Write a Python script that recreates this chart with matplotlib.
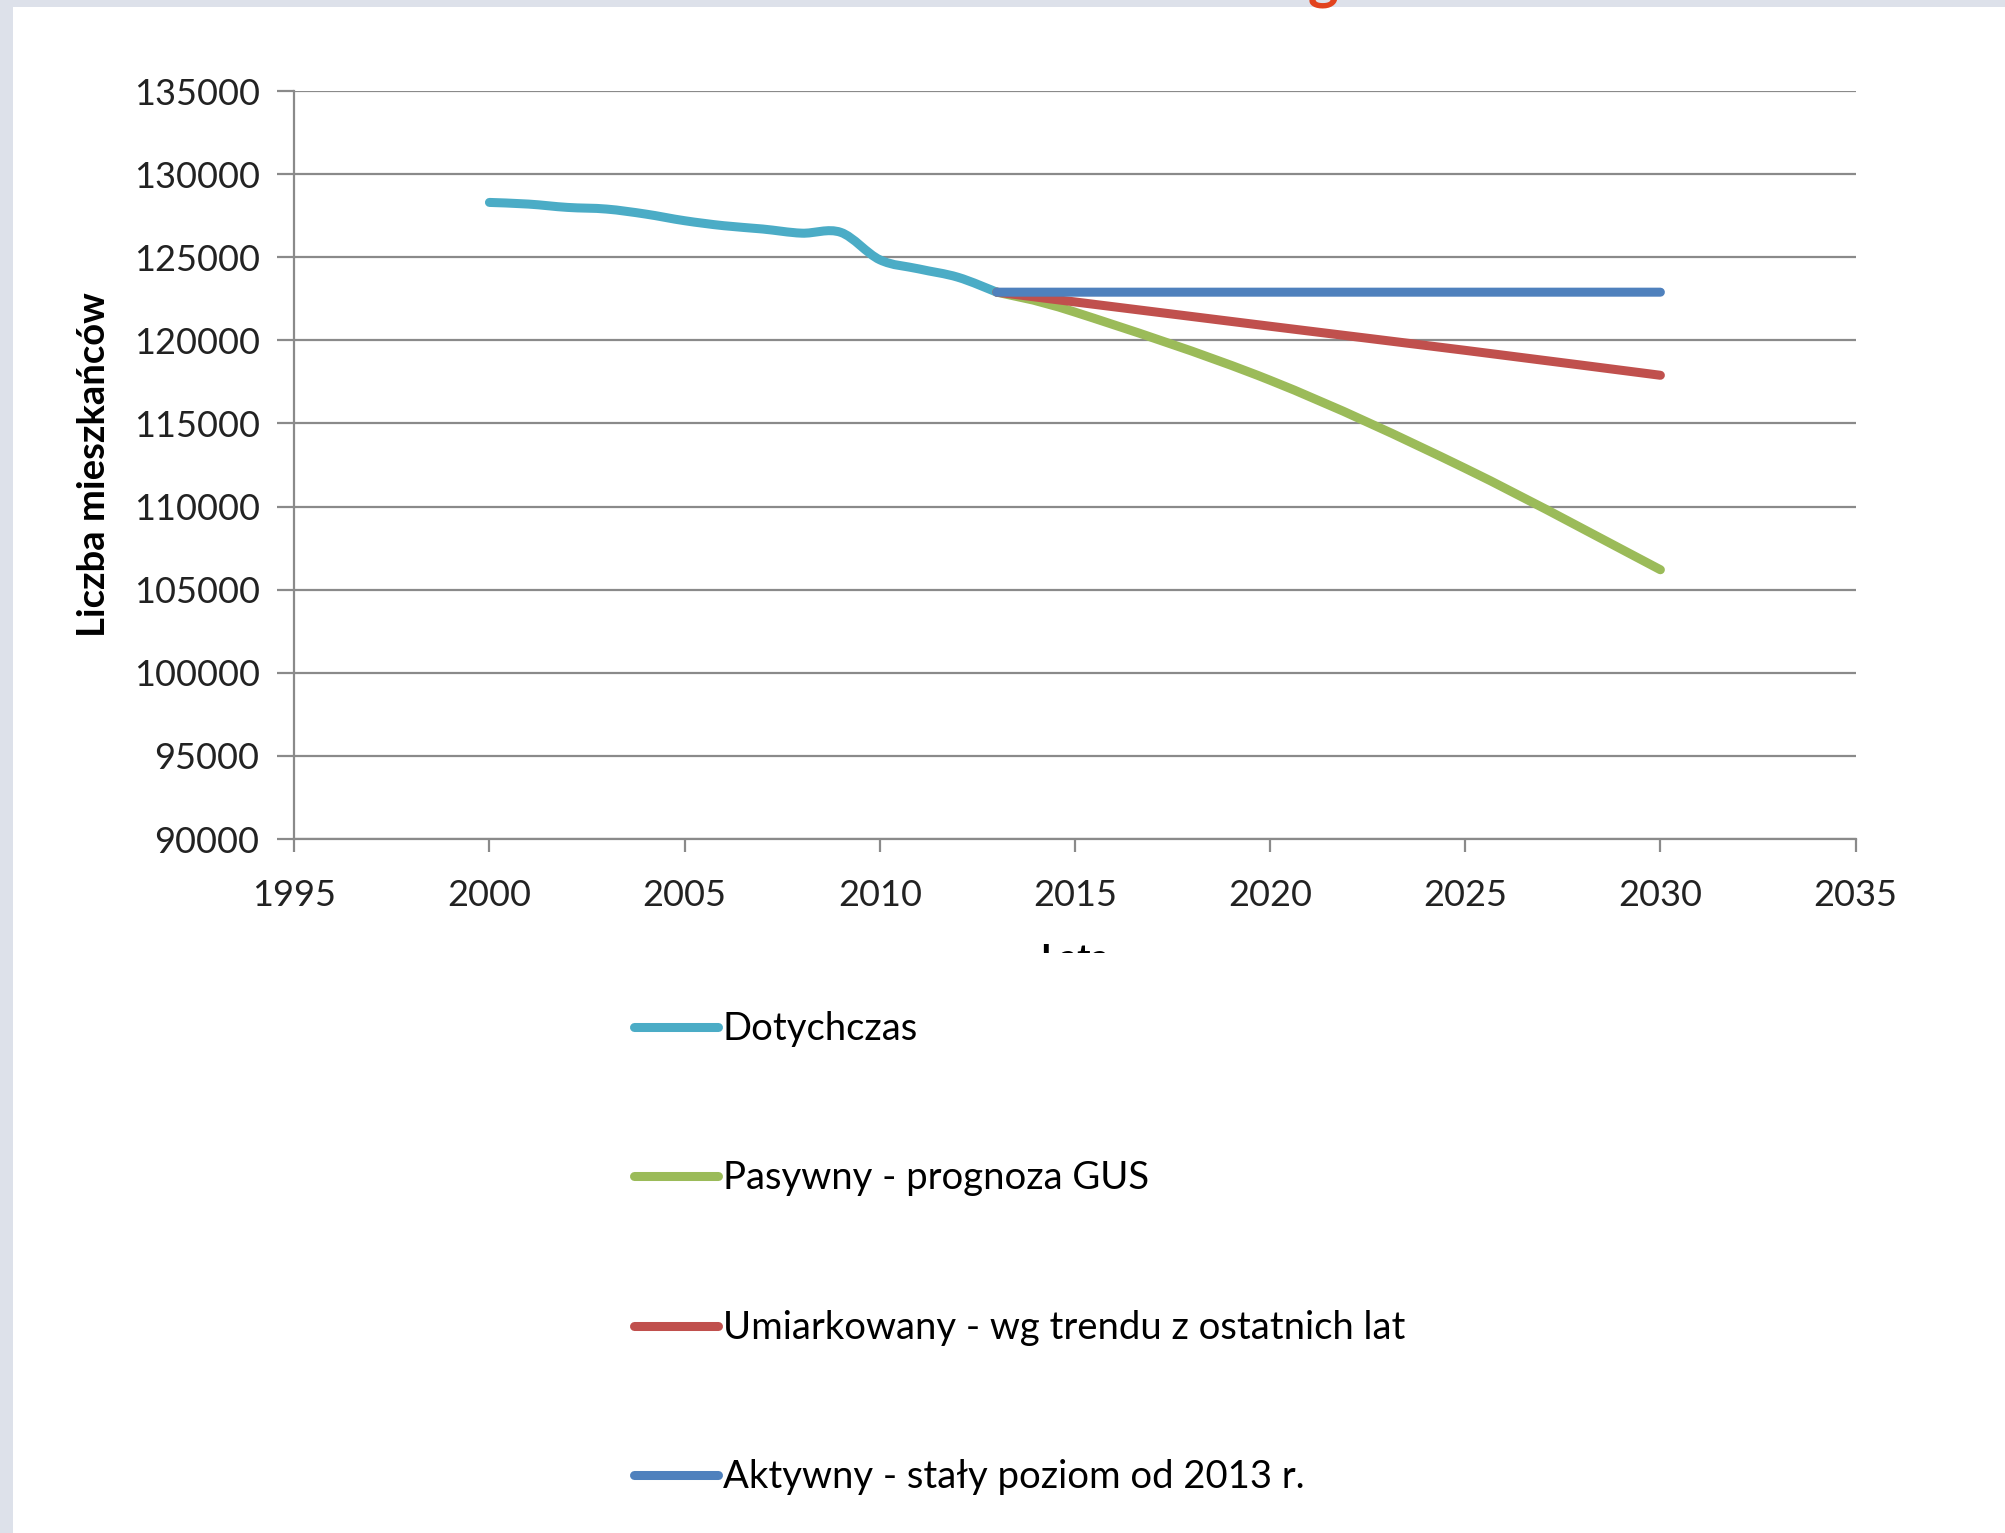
import matplotlib
matplotlib.use('Agg')
import matplotlib.pyplot as plt
from matplotlib.path import Path
from matplotlib.patches import PathPatch, Rectangle
from matplotlib.lines import Line2D
from matplotlib.transforms import Bbox, TransformedBbox

# dane
years_hist = [2000, 2001, 2002, 2003, 2004, 2005, 2006, 2007, 2008, 2009, 2010, 2011, 2012, 2013]
hist = [128300, 128200, 128000, 127900, 127600, 127200, 126900, 126700, 126450, 126500,
        124850, 124300, 123800, 122900]

years_pas = [2013, 2015, 2020, 2025, 2030]
pasywny = [122900, 121700, 117600, 112300, 106200]

years_umi = [2013, 2020, 2025, 2030]
umiarkowany = [122900, 120850, 119400, 117900]

years_akt = [2013, 2030]
aktywny = [122900, 122900]

labels = ['Dotychczas', 'Pasywny - prognoza GUS',
          'Umiarkowany - wg trendu z ostatnich lat', 'Aktywny - stały poziom od 2013 r.']
colors = ['#4BACC6', '#9BBB59', '#C0504D', '#4F81BD']

FONT = ['Lato', 'DejaVu Sans']
plt.rcParams['font.family'] = FONT


def smooth_path(xs, ys):
    # wygladzanie jak w Excelu (krzywe Beziera)
    pts = list(zip(xs, ys))
    verts = [pts[0]]
    codes = [Path.MOVETO]
    n = len(pts)
    for i in range(n - 1):
        p0 = pts[i - 1] if i > 0 else pts[i]
        p1 = pts[i]
        p2 = pts[i + 1]
        p3 = pts[i + 2] if i + 2 < n else pts[i + 1]
        c1 = (p1[0] + (p2[0] - p0[0]) / 6, p1[1] + (p2[1] - p0[1]) / 6)
        c2 = (p2[0] - (p3[0] - p1[0]) / 6, p2[1] - (p3[1] - p1[1]) / 6)
        verts += [c1, c2, p2]
        codes += [Path.CURVE4] * 3
    return Path(verts, codes)


fig = plt.figure(figsize=(20.06, 15.33), dpi=100)
fig.patch.set_facecolor('#dde1ea')
fig.add_artist(Rectangle((13 / 2006, 0), 1, 1 - 7 / 1533, transform=fig.transFigure,
                         facecolor='white', edgecolor='none', zorder=0))
# fragment tytulu slajdu (uciety u gory)
fig.text(0.652, 1.0 + 2 / 1533, 'g', color='#e2431e', fontsize=42, fontweight='bold',
         ha='left', va='baseline')

ax = fig.add_axes([0.1467, 0.4527, 0.9250 - 0.1467, 0.9406 - 0.4527])
ax.set_facecolor('white')

LW = 6.5
series = [(years_hist, hist), (years_pas, pasywny), (years_umi, umiarkowany), (years_akt, aktywny)]
for (xs, ys), c in zip(series, colors):
    ax.add_patch(PathPatch(smooth_path(xs, ys), fill=False, edgecolor=c, lw=LW,
                           capstyle='round', joinstyle='round', zorder=3))

ax.set_xlim(1995, 2035)
ax.set_ylim(90000, 135000)
ax.set_xticks(range(1995, 2036, 5))
ax.set_yticks(range(90000, 135001, 5000))
ax.yaxis.grid(True, color='#8a8a8a', lw=1.6)
ax.set_axisbelow(True)
for s in ['top', 'right']:
    ax.spines[s].set_visible(False)
for s in ['left', 'bottom']:
    ax.spines[s].set_color('#8a8a8a')
    ax.spines[s].set_linewidth(1.6)
ax.tick_params(axis='both', direction='out', colors='#8a8a8a', width=1.6,
               labelcolor='#222222', labelsize=26)
ax.tick_params(axis='y', length=12, pad=13)
ax.tick_params(axis='x', length=9, pad=20)

ax.set_ylabel('Liczba mieszkańców', fontsize=27.5, fontweight='bold', color='black', labelpad=16)
xl = ax.set_xlabel('Lata', fontsize=26, fontweight='bold', color='black', labelpad=22)
xl.set_clip_box(TransformedBbox(Bbox([[0, 1 - 953 / 1533], [1, 1]]), fig.transFigure))

handles = [Line2D([], [], color=c, lw=LW, solid_capstyle='round') for c in colors]
fig.legend(handles, labels, loc='upper left', bbox_to_anchor=(634 / 2006, 1 - 1011 / 1533),
           frameon=False, fontsize=27.5, handlelength=2.2, handletextpad=0.12,
           labelspacing=2.97, borderpad=0, borderaxespad=0)

fig.savefig('out.png', dpi=100, facecolor=fig.get_facecolor())
